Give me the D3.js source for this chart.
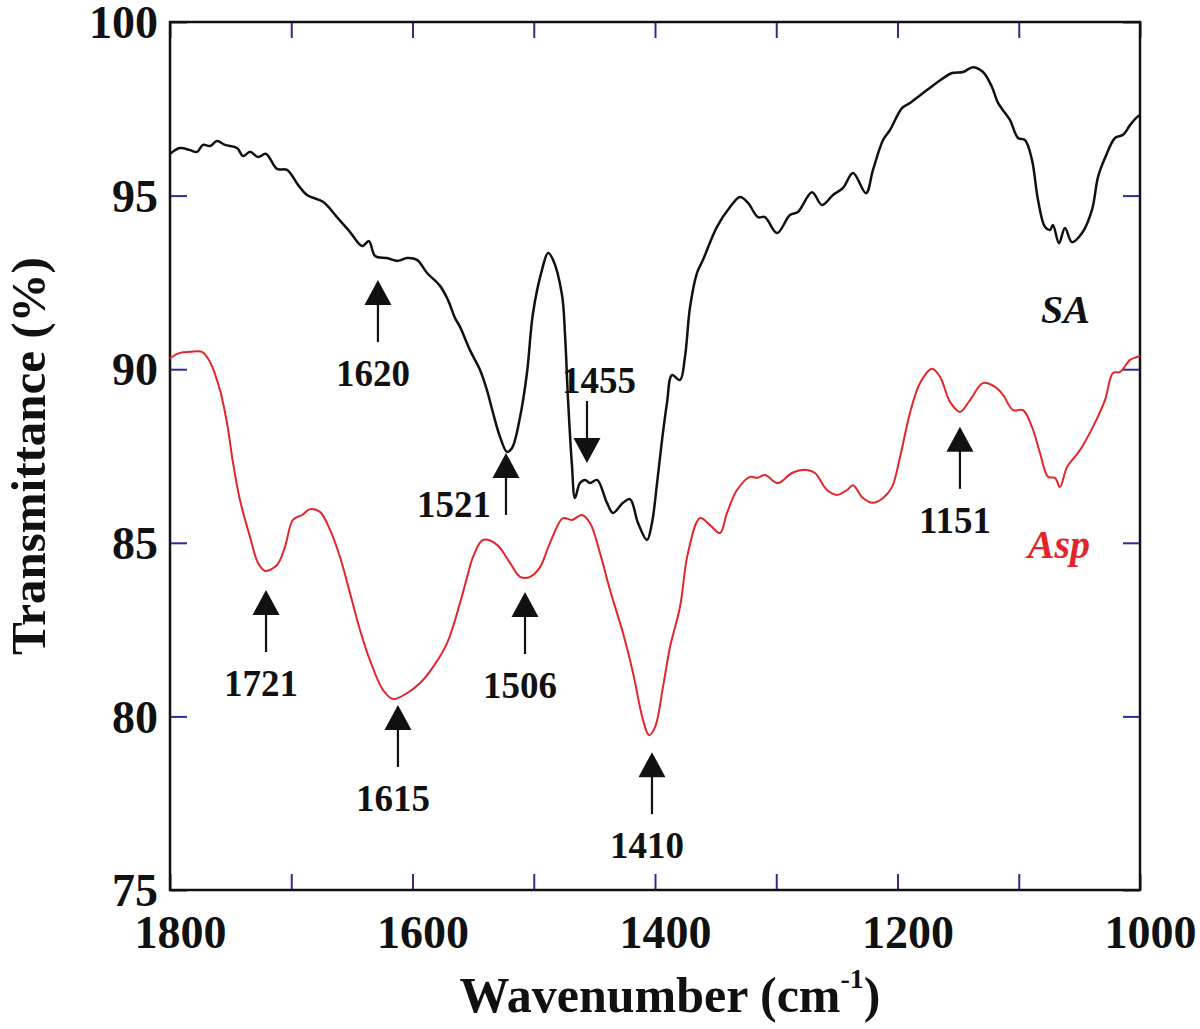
<!DOCTYPE html>
<html>
<head>
<meta charset="utf-8">
<script src="https://cdn.jsdelivr.net/npm/d3@7"></script>
<style>
  body { margin: 0; background: #fff; }
  svg { display: block; }
</style>
</head>
<body>
<svg id="chart"></svg>
<script>
// SA spectrum (black)
const saWavenumber = [1800, 1791.8, 1783.5, 1777.7, 1772.8, 1767.0, 1761.2, 1754.6, 1744.7, 1739.8, 1734.0, 1727.4, 1720.8, 1711.8, 1703.5, 1694.4, 1687.0, 1673.8, 1662.3, 1651.5, 1641.6, 1635.9, 1630.9, 1621.0, 1612.0, 1604.5, 1596.3, 1588.0, 1577.3, 1570.7, 1564.9, 1560.8, 1552.6, 1544.3, 1538.6, 1533.6, 1527.8, 1522.1, 1517.9, 1511.3, 1505.6, 1500.6, 1493.2, 1488.2, 1484.1, 1476.7, 1474.2, 1471.7, 1468.5, 1466.0, 1461.9, 1457.7, 1453.6, 1447.8, 1439.6, 1434.6, 1426.4, 1420.6, 1414.0, 1406.6, 1402.5, 1398.3, 1394.2, 1390.1, 1386.0, 1379.4, 1375.3, 1371.1, 1365.4, 1360.4, 1348.9, 1338.1, 1329.9, 1323.3, 1315.1, 1309.3, 1299.4, 1288.7, 1282.1, 1270.5, 1262.3, 1253.2, 1244.9, 1236.7, 1226.0, 1220.2, 1211.9, 1206.2, 1196.3, 1189.7, 1175.7, 1163.3, 1155.0, 1146.0, 1137.7, 1129.5, 1122.1, 1117.1, 1107.3, 1100.6, 1094.8, 1089.1, 1084.1, 1078.4, 1074.2, 1071.8, 1066.8, 1061.9, 1056.1, 1047.8, 1039.6, 1034.6, 1028.9, 1020.6, 1014.0, 1008.2, 1002.5, 1000]
const saTransmittance = [96.20, 96.37, 96.31, 96.26, 96.46, 96.43, 96.57, 96.46, 96.37, 96.14, 96.26, 96.11, 96.20, 95.77, 95.74, 95.31, 95.02, 94.82, 94.38, 93.95, 93.55, 93.69, 93.26, 93.20, 93.12, 93.20, 93.15, 92.77, 92.40, 91.99, 91.47, 91.22, 90.55, 89.98, 89.40, 88.74, 88.05, 87.62, 87.73, 88.62, 89.89, 91.62, 92.86, 93.35, 93.15, 92.14, 90.99, 89.11, 87.24, 86.29, 86.72, 86.81, 86.72, 86.81, 86.15, 85.86, 86.15, 86.26, 85.57, 85.08, 85.57, 86.72, 87.96, 89.03, 89.83, 89.69, 90.35, 91.79, 92.77, 93.15, 94.10, 94.67, 94.96, 94.79, 94.38, 94.38, 93.92, 94.44, 94.53, 95.10, 94.73, 95.02, 95.22, 95.65, 95.07, 95.74, 96.60, 96.89, 97.52, 97.67, 98.04, 98.36, 98.53, 98.56, 98.70, 98.56, 98.13, 97.67, 97.18, 96.66, 96.60, 96.03, 94.87, 94.10, 94.01, 94.15, 93.63, 94.07, 93.66, 93.92, 94.59, 95.54, 96.08, 96.66, 96.75, 97.03, 97.26, 97.32]

// Asp spectrum (red)
const aspWavenumber = [1800, 1791.8, 1783.5, 1773.6, 1767.0, 1758.8, 1753.0, 1748.0, 1742.3, 1734.0, 1727.4, 1721.6, 1711.8, 1705.2, 1698.6, 1691.1, 1684.5, 1676.3, 1668.0, 1659.8, 1651.5, 1643.3, 1635.1, 1624.3, 1616.1, 1604.5, 1593.8, 1583.1, 1571.5, 1560.8, 1555.0, 1550.1, 1541.9, 1530.3, 1519.6, 1511.3, 1503.1, 1494.8, 1486.6, 1475.9, 1468.5, 1460.2, 1453.6, 1445.4, 1437.1, 1426.4, 1418.1, 1409.9, 1404.9, 1400.0, 1393.4, 1387.6, 1379.4, 1372.8, 1362.9, 1354.6, 1346.4, 1340.6, 1332.4, 1321.6, 1315.9, 1309.3, 1298.6, 1287.0, 1274.6, 1268.0, 1258.1, 1249.9, 1241.6, 1236.7, 1228.5, 1220.2, 1211.9, 1204.5, 1197.9, 1189.7, 1181.4, 1171.6, 1164.9, 1156.7, 1148.5, 1140.2, 1129.5, 1119.6, 1113.0, 1104.7, 1096.5, 1089.1, 1082.5, 1075.9, 1070.1, 1066.0, 1060.2, 1049.5, 1038.8, 1028.9, 1022.3, 1016.5, 1008.2, 1002.5, 1000]
const aspTransmittance = [90.32, 90.47, 90.50, 90.50, 90.21, 89.40, 88.45, 87.30, 86.23, 85.17, 84.42, 84.19, 84.36, 84.88, 85.66, 85.80, 85.97, 85.89, 85.37, 84.59, 83.55, 82.49, 81.62, 80.76, 80.50, 80.67, 80.96, 81.42, 82.11, 83.27, 84.01, 84.59, 85.08, 84.94, 84.42, 84.02, 84.02, 84.30, 85.00, 85.71, 85.66, 85.80, 85.57, 84.71, 83.64, 82.40, 81.25, 79.90, 79.46, 79.69, 80.85, 82.00, 83.15, 84.71, 85.71, 85.51, 85.28, 85.86, 86.52, 86.90, 86.87, 86.95, 86.72, 87.01, 87.10, 87.01, 86.52, 86.38, 86.52, 86.66, 86.29, 86.15, 86.29, 86.61, 87.47, 88.74, 89.60, 90.01, 89.78, 89.06, 88.77, 89.11, 89.60, 89.49, 89.26, 88.82, 88.82, 88.34, 87.59, 86.90, 86.87, 86.61, 87.18, 87.67, 88.34, 89.11, 89.89, 89.92, 90.27, 90.35, 90.38]

// peak markers: label, arrow position (wavenumber), arrow tip (transmittance), arrow direction
const peakLabels = ["1620", "1521", "1455", "1721", "1615", "1506", "1410", "1151"]
const peakWavenumber = [1628.5, 1522.9, 1456.1, 1720.8, 1612.0, 1507.2, 1402.5, 1148.5]
const peakTip = [92.57, 87.59, 87.30, 83.64, 80.33, 83.58, 78.97, 88.34]
const peakDirection = ["up", "up", "down", "up", "up", "up", "up", "up"]

const xTicks = [1800, 1700, 1600, 1500, 1400, 1300, 1200, 1100, 1000]
const yTicks = [75, 80, 85, 90, 95, 100]

const width = 1200, height = 1029
const plotLeft = 170, plotRight = 1140, plotTop = 22, plotBottom = 890
const font = "'Liberation Serif', 'Times New Roman', serif"
const tickColor = "#2b2f8f"
const red = "#e3262b"

const svg = d3.select("#chart")
    .attr("width", width)
    .attr("height", height)

const x = d3.scaleLinear().domain([1800, 1000]).range([plotLeft, plotRight])
const y = d3.scaleLinear().domain([75, 100]).range([plotBottom, plotTop])

function styleAxis(g, fontSize){
    g.select(".domain").remove()
    g.selectAll(".tick line")
        .attr("stroke", tickColor)
        .attr("stroke-width", 2)
    g.selectAll(".tick text")
        .attr("font-family", font)
        .attr("font-weight", "bold")
        .attr("font-size", fontSize)
        .attr("fill", "#111")
}

svg.append("g")
    .attr("transform", `translate(0,${plotBottom})`)
    .call(d3.axisBottom(x).tickValues(xTicks).tickSize(-16).tickPadding(25)
        .tickFormat(d => d % 200 === 0 ? d : ""))
    .call(g => styleAxis(g, 46))
    .call(g => g.selectAll(".tick text").attr("dx", 10))

svg.append("g")
    .attr("transform", `translate(0,${plotTop})`)
    .call(d3.axisTop(x).tickValues(xTicks).tickSize(-16).tickFormat(""))
    .call(g => styleAxis(g, 46))

svg.append("g")
    .attr("transform", `translate(${plotLeft},0)`)
    .call(d3.axisLeft(y).tickValues(yTicks).tickSize(-17).tickPadding(12))
    .call(g => styleAxis(g, 46))
    .call(g => g.selectAll(".tick text").attr("dy", "0.34em"))

svg.append("g")
    .attr("transform", `translate(${plotRight},0)`)
    .call(d3.axisRight(y).tickValues(yTicks).tickSize(-17).tickFormat(""))
    .call(g => styleAxis(g, 46))

// frame
svg.append("rect")
    .attr("x", plotLeft)
    .attr("y", plotTop)
    .attr("width", plotRight - plotLeft)
    .attr("height", plotBottom - plotTop)
    .attr("fill", "none")
    .attr("stroke", "#111")
    .attr("stroke-width", 2.5)

const line = d3.line()
    .x(d => x(d[0]))
    .y(d => y(d[1]))
    .curve(d3.curveCatmullRom.alpha(0.5))

svg.append("path")
    .datum(d3.zip(saWavenumber, saTransmittance))
    .attr("d", line)
    .attr("fill", "none")
    .attr("stroke", "#111")
    .attr("stroke-width", 2.5)
    .attr("stroke-linejoin", "round")

svg.append("path")
    .datum(d3.zip(aspWavenumber, aspTransmittance))
    .attr("d", line)
    .attr("fill", "none")
    .attr("stroke", red)
    .attr("stroke-width", 2)
    .attr("stroke-linejoin", "round")

// arrows + labels
peakLabels.forEach((label, i) => {
    const ax = x(peakWavenumber[i])
    const ty = y(peakTip[i])
    const s = peakDirection[i] === "up" ? 1 : -1
    const g = svg.append("g")

    g.append("path")
        .attr("d", `M${ax},${ty} L${ax - 13.5},${ty + s * 25} L${ax + 13.5},${ty + s * 25} Z`)
        .attr("fill", "#111")

    g.append("line")
        .attr("x1", ax).attr("y1", ty + s * 20)
        .attr("x2", ax).attr("y2", ty + s * 62)
        .attr("stroke", "#111")
        .attr("stroke-width", 2.2)

    const t = g.append("text")
        .text(label)
        .attr("font-family", font)
        .attr("font-weight", "bold")
        .attr("font-size", 37)
        .attr("fill", "#111")

    if (label === "1521") {
        t.attr("x", ax - 15).attr("y", ty + 64).attr("text-anchor", "end")
    } else if (s < 0) {
        t.attr("x", ax + 12).attr("y", ty - 70).attr("text-anchor", "middle")
    } else {
        t.attr("x", ax - 5).attr("y", ty + 106).attr("text-anchor", "middle")
    }
})

// series names
svg.append("text")
    .text("SA")
    .attr("x", 1090).attr("y", 323)
    .attr("text-anchor", "end")
    .attr("font-family", font)
    .attr("font-weight", "bold")
    .attr("font-style", "italic")
    .attr("font-size", 40)
    .attr("fill", "#111")

svg.append("text")
    .text("Asp")
    .attr("x", 1090).attr("y", 558)
    .attr("text-anchor", "end")
    .attr("font-family", font)
    .attr("font-weight", "bold")
    .attr("font-style", "italic")
    .attr("font-size", 40)
    .attr("fill", red)

// axis titles
const xTitle = svg.append("text")
    .attr("x", 670).attr("y", 1012)
    .attr("text-anchor", "middle")
    .attr("font-family", font)
    .attr("font-weight", "bold")
    .attr("font-size", 50)
    .attr("fill", "#111")
xTitle.append("tspan").text("Wavenumber (cm")
xTitle.append("tspan").text("-1").attr("font-size", 28).attr("dy", -24)
xTitle.append("tspan").text(")").attr("dy", 24)

svg.append("text")
    .text("Transmittance (%)")
    .attr("transform", "translate(45,456) rotate(-90)")
    .attr("text-anchor", "middle")
    .attr("font-family", font)
    .attr("font-weight", "bold")
    .attr("font-size", 49)
    .attr("fill", "#111")
</script>
</body>
</html>
